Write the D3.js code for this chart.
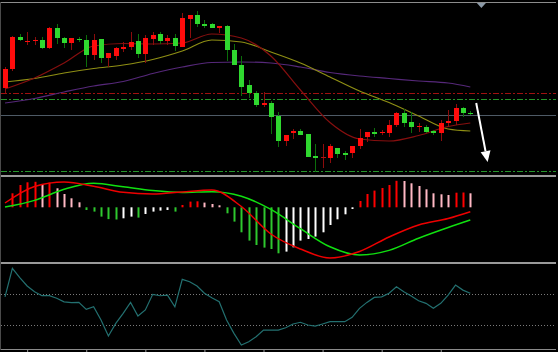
<!DOCTYPE html>
<html>
<head>
<meta charset="utf-8">
<script src="https://cdn.jsdelivr.net/npm/d3@7"></script>
<style>
body { margin: 0; background: #000; }
svg { display: block; }
</style>
</head>
<body>
<div id="chart"></div>
<script>
// price bars (open, high, low, close), one per period
var opens  = [87,106,138,133,134,135,127,147,137,132,136,135,120,136,117,119,126,128,134,121,136,141,134,137,128,156,160,151,151,147,149,125,110,90,82,70,72,59,34,42,44,41,19,18,17,27,22,22,29,38,43,42,42,50,62,53,48,48,44,42,52,54,67,62];
var highs  = [108,139,141,143,138,138,148,151,138,137,138,140,141,136,122,128,133,143,141,140,143,143,140,141,162,160,164,155,152,149,150,131,119,95,84,83,74,63,40,46,46,41,31,31,31,27,24,29,46,43,47,45,55,63,66,63,52,50,45,55,65,71,68,64];
var lows   = [82,104,134,130,130,126,126,131,127,125,133,108,115,112,108,115,123,125,117,112,130,131,130,124,128,137,148,147,147,142,114,110,79,77,68,68,41,28,29,36,40,18,3,7,12,17,15,17,26,33,38,40,38,48,48,42,43,42,40,34,48,50,58,60];
var closes = [106,138,135,134,135,127,147,137,132,137,135,120,135,117,122,127,128,133,121,137,140,134,137,129,157,160,151,149,147,149,125,110,88,82,70,72,58,34,40,44,40,18,17,18,29,21,20,29,37,43,41,43,50,62,52,48,49,43,42,52,54,67,62,61];

// moving averages read at every fourth period
var maIndex = [0,4,8,12,16,20,24,28,32,36,40,44,48,52,56,60,63];
var maFast  = [86,97,112,129,131.5,131,132,141,137,119,85,52.5,36,34,39.5,48.5,52];
var maMid   = [93,96.5,102,106.5,110,115.5,124,135,133,123,112,98,84,72.5,59,46,44];
var maSlow  = [72,76.5,83,89,93.5,101.5,108,112.5,113,112,108,102.5,99,96.5,94,92,88];

// horizontal price levels
var levelRed   = [82];
var levelGreen = [75.5, 4.5];
var levelGray  = [60.5];

// arrow annotation (period, price)
var arrowIdx   = [63.8, 65.35];
var arrowPrice = [72, 13];
var shiftIdx   = 64.5;

// MACD panel
var histValues = [0,14,22.3,25,25.5,23.3,24.7,19,13.3,9,5,-2.7,-4.3,-9.3,-11.8,-12.2,-11,-9.3,-10.3,-6.7,-4.3,-3.3,-2.7,-4.3,2.3,5.7,6,4.7,3.3,2,-6,-14.3,-25,-33.3,-37.7,-40.3,-41.7,-46,-44.3,-40,-33.3,-31.7,-29.3,-25,-17.7,-12,-7,-1.7,6.3,13.3,16.7,19.3,22.3,26.5,26.3,24,21.3,18,14,13,12.3,14.6,14.8,14];
var macdLine   = [4.3,20.8,25.3,21.1,15,13.3,15.4,17.3,0.8,-26.7,-41.7,-50.7,-44.2,-29.7,-17.7,-11.2,-4.4];
var signalLine = [0.2,6.9,18,24,20.5,16.7,14.8,15.6,11.1,-2.1,-21.4,-39.5,-47.7,-43.1,-30.9,-20.2,-12.7];

// oscillator panel
var oscValues = [84,271,210,155,117,91,91,74,51,45,47,1,18,-69,-174,-91,-25,47,-43,-3,100,91,95,18,199,183,155,107,78,51,-69,-157,-234,-212,-179,-135,-135,-135,-120,-95,-84,-102,-109,-95,-80,-80,-80,-51,8,47,80,84,107,150,117,89,58,41,8,41,95,161,128,107];
var oscLevels = [100, -100];
var timeTicks = [3,11,19,27,35,43,51,59];

function drawChart(id) {
	var w = 558, h = 352;
	var left = 1, right = 556;

	var x = d3.scaleLinear().domain([0, 63]).range([5, 470.3]);
	var yPrice = d3.scaleLinear().domain([0, 175]).range([175, 0]);
	var yMacd = d3.scaleLinear().domain([-55, 30]).range([262.3, 177.3]);
	var yOsc = d3.scaleLinear().domain([-260, 300]).range([349, 264]);

	var svg = d3.select("#" + id).append("svg")
	.attr("width", w)
	.attr("height", h);

	svg.append("rect").attr("width", w).attr("height", h).attr("fill", "#000");

	// panel frames
	svg.append("line").attr("x1", left).attr("x2", right).attr("y1", 2.5).attr("y2", 2.5)
	.attr("stroke", "#8c8c8c").attr("stroke-width", 1);
	svg.append("rect").attr("x", left).attr("y", 175).attr("width", right - left).attr("height", 2).attr("fill", "#9a9a9a");
	svg.append("rect").attr("x", left).attr("y", 262).attr("width", right - left).attr("height", 2).attr("fill", "#9a9a9a");
	svg.append("line").attr("x1", 0.5).attr("x2", 0.5).attr("y1", 2).attr("y2", 350)
	.attr("stroke", "#4a4a4a");

	// price levels
	var main = svg.append("g").attr("class", "main");
	function hLine(g, y, color, dash) {
		g.append("line")
		.attr("x1", left).attr("x2", right)
		.attr("y1", Math.round(y) + 0.5).attr("y2", Math.round(y) + 0.5)
		.attr("stroke", color)
		.attr("stroke-width", 1)
		.attr("stroke-dasharray", dash);
	}
	levelRed.forEach(function(v) { hLine(main, yPrice(v), "#a01010", "6,2,2,2"); });
	levelGreen.forEach(function(v) { hLine(main, yPrice(v), "#25952a", "6,2,2,2"); });
	levelGray.forEach(function(v) { hLine(main, yPrice(v), "#4e5a66", null); });

	// moving averages
	var maLine = d3.line()
	.x(function(d) { return x(d[0]); })
	.y(function(d) { return yPrice(d[1]); })
	.curve(d3.curveMonotoneX);
	[[maSlow, "#56287a"], [maMid, "#8f8f14"], [maFast, "#860f0f"]].forEach(function(m) {
		main.append("path")
		.datum(maIndex.map(function(k, j) { return [k, m[0][j]]; }))
		.attr("fill", "none")
		.attr("stroke", m[1])
		.attr("stroke-width", 1.2)
		.attr("d", maLine);
	});

	// candles
	var candles = opens.map(function(o, i) {
		return {i: i, o: o, h: highs[i], l: lows[i], c: closes[i]};
	});
	var bar = main.selectAll(".candle")
	.data(candles).enter()
	.append("g")
	.attr("class", "candle");

	bar.append("line")
	.attr("x1", function(d) { return Math.round(x(d.i)) + 0.5; })
	.attr("x2", function(d) { return Math.round(x(d.i)) + 0.5; })
	.attr("y1", function(d) { return yPrice(d.h); })
	.attr("y2", function(d) { return yPrice(d.l); })
	.attr("stroke", function(d) { return d.c >= d.o ? "#8c0c0c" : "#0b6e0b"; })
	.attr("stroke-width", 1);

	bar.append("rect")
	.attr("x", function(d) { return Math.round(x(d.i)) - 2; })
	.attr("y", function(d) { return Math.round(yPrice(Math.max(d.o, d.c))); })
	.attr("width", 5)
	.attr("height", function(d) { return Math.max(1, Math.round(Math.abs(yPrice(d.o) - yPrice(d.c)))); })
	.attr("fill", function(d) {
		if (Math.abs(d.c - d.o) < 1) { return d.c >= d.o ? "#b01010" : "#22bb22"; }
		return d.c >= d.o ? "#ff0c0c" : "#2fd82f";
	});

	// arrow
	var ax1 = x(arrowIdx[0]), ay1 = yPrice(arrowPrice[0]);
	var ax2 = x(arrowIdx[1]), ay2 = yPrice(arrowPrice[1]);
	var ang = Math.atan2(ay2 - ay1, ax2 - ax1);
	var headLen = 11, headW = 5;
	var bx = ax2 - headLen * Math.cos(ang), by = ay2 - headLen * Math.sin(ang);
	main.append("line")
	.attr("x1", ax1).attr("y1", ay1).attr("x2", bx).attr("y2", by)
	.attr("stroke", "#ffffff").attr("stroke-width", 2);
	main.append("path")
	.attr("d", "M" + ax2 + "," + ay2 +
		"L" + (bx + headW * Math.sin(ang)) + "," + (by - headW * Math.cos(ang)) +
		"L" + (bx - headW * Math.sin(ang)) + "," + (by + headW * Math.cos(ang)) + "Z")
	.attr("fill", "#ffffff");

	// chart shift marker
	var sx = x(shiftIdx);
	svg.append("path")
	.attr("d", "M" + (sx - 4.5) + ",3L" + (sx + 4.5) + ",3L" + sx + ",8Z")
	.attr("fill", "#8c9aa8");

	// MACD histogram, coloured by sign and direction
	var macd = svg.append("g").attr("class", "macd");
	function histColor(v, i) {
		var prev = i > 0 ? histValues[i - 1] : 0;
		if (v >= 0) { return v >= prev ? "#ff0000" : "#ffb8c4"; }
		return v <= prev ? "#2ec82e" : "#ffffff";
	}
	macd.selectAll(".hist")
	.data(histValues.map(function(v, i) { return {i: i, v: v}; }).filter(function(d) { return d.v !== 0; }))
	.enter()
	.append("rect")
	.attr("class", "hist")
	.attr("x", function(d) { return Math.round(x(d.i)) - 0.5; })
	.attr("y", function(d) { return Math.min(yMacd(d.v), yMacd(0)); })
	.attr("width", 2)
	.attr("height", function(d) { return Math.abs(yMacd(d.v) - yMacd(0)); })
	.attr("fill", function(d) { return histColor(d.v, d.i); });

	var mLine = d3.line()
	.x(function(d) { return x(d[0]); })
	.y(function(d) { return yMacd(d[1]); })
	.curve(d3.curveMonotoneX);
	[[signalLine, "#10e010"], [macdLine, "#ee0000"]].forEach(function(m) {
		macd.append("path")
		.datum(maIndex.map(function(k, j) { return [k, m[0][j]]; }))
		.attr("fill", "none")
		.attr("stroke", m[1])
		.attr("stroke-width", 1.5)
		.attr("d", mLine);
	});

	// oscillator
	var osc = svg.append("g").attr("class", "osc");
	oscLevels.forEach(function(v) {
		osc.append("line")
		.attr("x1", left).attr("x2", right)
		.attr("y1", Math.round(yOsc(v)) + 0.5).attr("y2", Math.round(yOsc(v)) + 0.5)
		.attr("stroke", "#7a7a7a")
		.attr("stroke-dasharray", "1,2");
	});
	osc.append("path")
	.datum(oscValues)
	.attr("fill", "none")
	.attr("stroke", "#237070")
	.attr("stroke-width", 1.2)
	.attr("d", d3.line()
		.x(function(d, i) { return x(i); })
		.y(function(d) { return yOsc(d); }));

	// time axis
	var axis = d3.axisBottom(x).tickValues(timeTicks).tickSize(3).tickFormat("");
	var ag = svg.append("g").attr("transform", "translate(0,349)").call(axis);
	ag.select(".domain").remove();
	ag.selectAll("line").attr("stroke", "#9a9a9a");
	svg.append("line").attr("x1", left).attr("x2", right).attr("y1", 349.5).attr("y2", 349.5)
	.attr("stroke", "#8a8a8a");

	return svg.node();
}

drawChart("chart");
</script>
</body>
</html>
